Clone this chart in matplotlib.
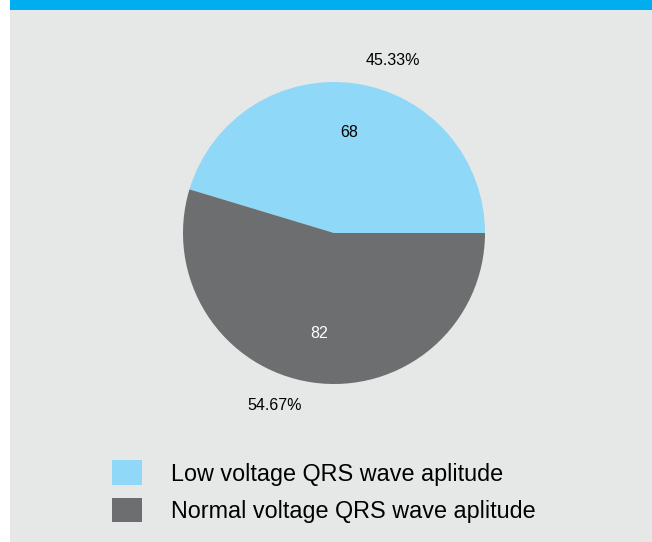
import numpy as np
import matplotlib
matplotlib.use("Agg")
import matplotlib.pyplot as plt
from matplotlib.patches import Rectangle, Patch

plt.rcParams['font.family'] = ['Liberation Sans', 'DejaVu Sans']

categories = ['Low voltage QRS wave aplitude', 'Normal voltage QRS wave aplitude']
counts = [68, 82]
percents = ['45.33%', '54.67%']
colors = ['#8fd8f7', '#6d6e70']
count_colors = ['black', 'white']

W, H = 652, 542
fig = plt.figure(figsize=(W / 100, H / 100), dpi=100, facecolor='white')

# panel background and top bar
fig.patches.append(Rectangle((10 / W, 0), 1 - 10 / W, 1, transform=fig.transFigure,
                             facecolor='#e6e7e7', edgecolor='none', zorder=-2))
fig.patches.append(Rectangle((10 / W, 1 - 10 / H), 1 - 10 / W, 10 / H, transform=fig.transFigure,
                             facecolor='#00aeef', edgecolor='none', zorder=-1))

# pie centred at (334, 233) px, radius 151 px
cx, cy, r = 334, 233, 151
ax = fig.add_axes([(cx - r) / W, (H - cy - r) / H, 2 * r / W, 2 * r / H])
wedges, texts = ax.pie(counts, colors=colors, startangle=0, counterclock=True,
                       radius=1, wedgeprops=dict(linewidth=0))
ax.set_xlim(-1, 1)
ax.set_ylim(-1, 1)
ax.axis('off')

total = sum(counts)
start = 0.0
for i, c in enumerate(counts):
    span = 360.0 * c / total
    mid = np.deg2rad(start + span / 2)
    ax.text(0.67 * np.cos(mid), 0.67 * np.sin(mid), str(c), ha='center', va='center',
            fontsize=11.5, color=count_colors[i])
    outer = mid - np.deg2rad(10.5)
    ax.text(1.21 * np.cos(outer), 1.21 * np.sin(outer), percents[i], ha='center', va='center',
            fontsize=11.5, color='black')
    start += span

handles = [Patch(facecolor=col, edgecolor='none') for col in colors]
fig.legend(handles, categories, loc='upper left',
           bbox_to_anchor=(103 / W, 1 - 451 / H), frameon=False,
           fontsize=16.8, handlelength=1.25, handleheight=1.25,
           handletextpad=1.25, labelspacing=0.52, borderaxespad=0)

fig.savefig('out.png', dpi=100, facecolor=fig.get_facecolor())
